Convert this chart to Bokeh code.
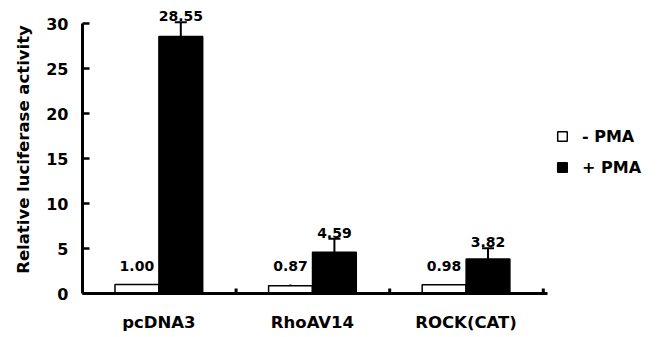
from bokeh.plotting import figure
from bokeh.models import (Range1d, FixedTicker, Whisker, ColumnDataSource, LabelSet,
                          Legend, LegendItem, TeeHead)
from bokeh.core.properties import value
from bokeh.embed import file_html
from bokeh.resources import INLINE

# ---- data ----
categories = ["pcDNA3", "RhoAV14", "ROCK(CAT)"]
minus_pma = [1.00, 0.87, 0.98]
plus_pma = [28.55, 4.59, 3.82]
minus_err = [0.05, 0.12, 0.05]
plus_err = [1.6, 1.5, 1.2]
minus_labels = ["1.00", "0.87", "0.98"]
plus_labels = ["28.55", "4.59", "3.82"]
series_names = ["- PMA", "+ PMA"]
y_ticks = [0, 5, 10, 15, 20, 25, 30]

FONT = "DejaVu Sans"
BAR_W = 0.285
OFF = 0.143
N = len(categories)

centers = [i + 0.497 for i in range(N)]
xw = [c - OFF for c in centers]
xb = [c + OFF for c in centers]

src_w = ColumnDataSource(dict(
    x=xw, top=minus_pma, upper=[v + e for v, e in zip(minus_pma, minus_err)],
    ly=[v + e + 1.5 for v, e in zip(minus_pma, minus_err)], label=minus_labels))
src_b = ColumnDataSource(dict(
    x=xb, top=plus_pma, upper=[v + e for v, e in zip(plus_pma, plus_err)],
    ly=[v + e + 0.1 for v, e in zip(plus_pma, plus_err)], label=plus_labels))

p = figure(width=658, height=337, output_backend="svg", toolbar_location=None,
           x_range=Range1d(0, 3.75), y_range=Range1d(0, 32),
           min_border_left=82, min_border_right=0, min_border_top=5,
           min_border_bottom=44)
p.outline_line_color = None
p.xgrid.visible = False
p.ygrid.visible = False

r_w = p.vbar(x="x", top="top", width=BAR_W, source=src_w, fill_color="white",
             line_color="black", line_width=1.5)
r_b = p.vbar(x="x", top="top", width=BAR_W, source=src_b, fill_color="black",
             line_color="black", line_width=1.5)

for src, head in ((src_w, None), (src_b, TeeHead(size=12, line_width=2))):
    p.add_layout(Whisker(base="x", lower="top", upper="upper", source=src,
                         line_width=2, upper_head=head, lower_head=None))

# group separator ticks on the x axis
bounds = [float(i) for i in range(1, N + 1)]
p.segment(x0=bounds, x1=bounds, y0=[0] * N, y1=[0.55] * N,
          line_color="black", line_width=3)

for src in (src_w, src_b):
    p.add_layout(LabelSet(x="x", y="ly", text="label", source=src,
                          text_align="center", text_baseline="bottom",
                          text_font=value(FONT), text_font_style="bold",
                          text_font_size="14px", text_color="black"))

# axes
p.yaxis.ticker = FixedTicker(ticks=y_ticks)
p.yaxis.bounds = (0, 30)
p.yaxis.axis_label = "Relative luciferase activity"
p.yaxis.axis_label_text_font = FONT
p.yaxis.axis_label_text_font_style = "bold"
p.yaxis.axis_label_text_font_size = "16.5px"
p.yaxis.axis_label_text_color = "black"
p.yaxis.axis_label_standoff = 10
p.yaxis.major_label_text_font = FONT
p.yaxis.major_label_text_font_style = "bold"
p.yaxis.major_label_text_font_size = "16px"
p.yaxis.major_label_text_color = "black"
p.yaxis.major_label_standoff = 14
p.yaxis.major_tick_in = 7
p.yaxis.major_tick_out = 0
p.yaxis.minor_tick_line_color = None
p.yaxis.axis_line_width = 3
p.yaxis.major_tick_line_width = 2.5

p.xaxis.ticker = FixedTicker(ticks=centers)
p.xaxis.bounds = (0, N + 0.03)
p.xaxis.major_label_overrides = {c: n for c, n in zip(centers, categories)}
p.xaxis.major_label_text_font = FONT
p.xaxis.major_label_text_font_style = "bold"
p.xaxis.major_label_text_font_size = "16.5px"
p.xaxis.major_label_text_color = "black"
p.xaxis.major_label_standoff = 13
p.xaxis.major_tick_line_color = None
p.xaxis.minor_tick_line_color = None
p.xaxis.axis_line_width = 3

legend = Legend(items=[LegendItem(label=series_names[0], renderers=[r_w]),
                       LegendItem(label=series_names[1], renderers=[r_b])],
                location=(474, 116), glyph_width=12, glyph_height=12,
                label_height=20, spacing=11, padding=0, margin=0,
                label_standoff=14, border_line_color=None,
                background_fill_alpha=0, label_text_color="black",
                label_text_font=FONT, label_text_font_style="bold",
                label_text_font_size="16px")
p.add_layout(legend, "center")

open("out.html", "w").write(file_html(p, INLINE))
